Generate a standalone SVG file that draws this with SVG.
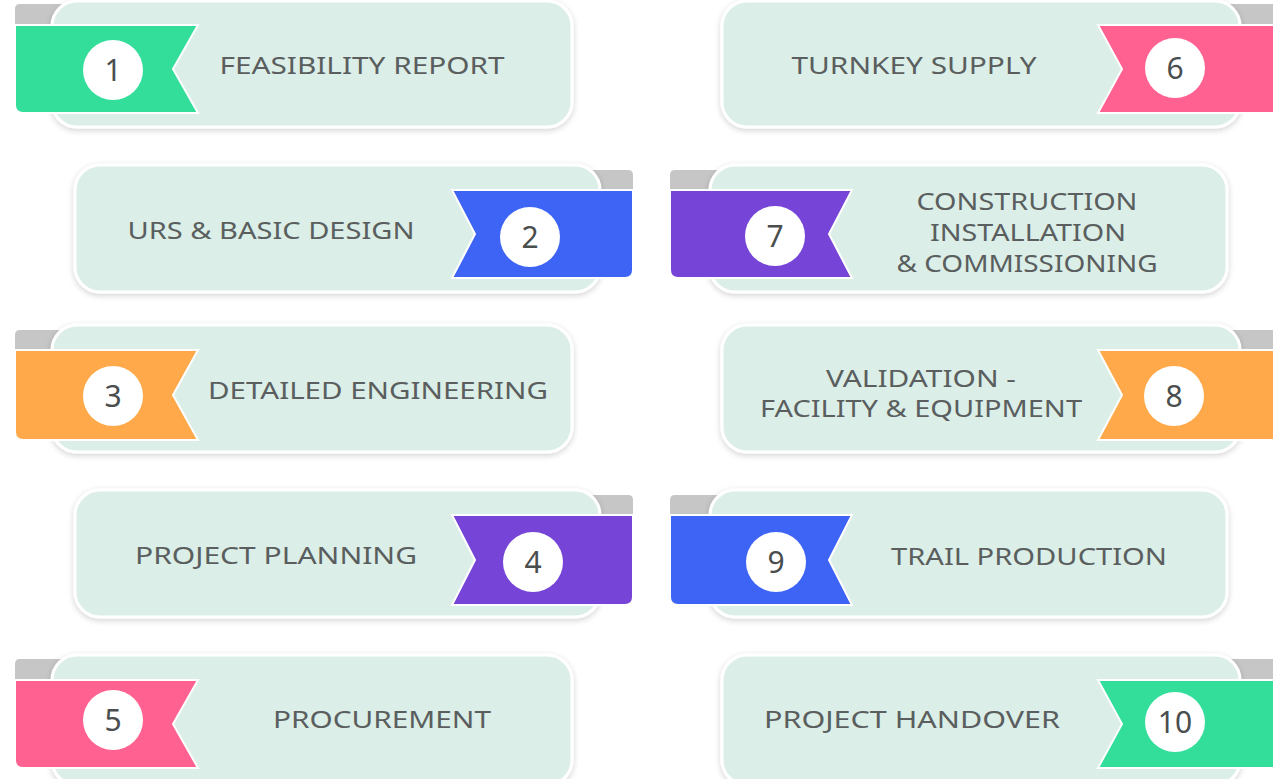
<svg xmlns="http://www.w3.org/2000/svg" width="1273" height="779" viewBox="0 0 1273 779">
<defs>
<filter id="sh" x="-5%" y="-10%" width="110%" height="125%">
<feGaussianBlur in="SourceAlpha" stdDeviation="3"/>
<feOffset dy="2" result="b"/>
<feComponentTransfer><feFuncA type="linear" slope="0.18"/></feComponentTransfer>
<feMerge><feMergeNode/><feMergeNode in="SourceGraphic"/></feMerge>
</filter>
</defs>
<style>
.card{fill:#dbeee7;stroke:#ffffff;stroke-width:3}
.tab{fill:#c6c6c6}
.flag{stroke:#ffffff;stroke-width:2}
.g{fill:#33de9b}.b{fill:#3e64f5}.o{fill:#ffa94a}.p{fill:#7645d8}.k{fill:#ff6291}
.dot{fill:#ffffff}
.lbl{font-family:"Noto Sans","Liberation Sans",sans-serif;font-size:23px;font-weight:400;fill:#5a5e5e;text-anchor:middle}
.num{font-family:"Noto Sans","Liberation Sans",sans-serif;font-size:30px;font-weight:400;fill:#4a4e4e;text-anchor:middle}
</style>
<rect width="1273" height="779" fill="#ffffff"/>

<g id="node1">
<path class="tab" d="M15,34 V9 Q15,4 20,4 H70 L60,34 Z"/>
<rect class="card" x="52" y="1" width="520" height="126" rx="25" filter="url(#sh)"/>
<path class="flag g" d="M15,25 H198 L173,69 L198,113 H23 Q15,113 15,105 Z"/>
<circle class="dot" cx="113" cy="70" r="30"/>
<text class="num" x="113" y="81">1</text>
<text class="lbl" x="362" y="74" textLength="285" lengthAdjust="spacingAndGlyphs">FEASIBILITY REPORT</text>
</g>

<g id="node2">
<path class="tab" d="M633,200 V175 Q633,170 628,170 H585 L595,200 Z"/>
<rect class="card" x="75" y="165" width="525" height="127" rx="25" filter="url(#sh)"/>
<path class="flag b" d="M452,190 H633 V270 Q633,278 625,278 H452 L475,234 Z"/>
<circle class="dot" cx="530" cy="237" r="30"/>
<text class="num" x="530" y="248">2</text>
<text class="lbl" x="271" y="239" textLength="287" lengthAdjust="spacingAndGlyphs">URS &amp; BASIC DESIGN</text>
</g>

<g id="node3">
<path class="tab" d="M15,360 V335 Q15,330 20,330 H70 L60,360 Z"/>
<rect class="card" x="52" y="325" width="520" height="127" rx="25" filter="url(#sh)"/>
<path class="flag o" d="M15,350 H198 L173,395 L198,440 H23 Q15,440 15,432 Z"/>
<circle class="dot" cx="113" cy="396" r="30"/>
<text class="num" x="113" y="407">3</text>
<text class="lbl" x="378" y="399" textLength="340" lengthAdjust="spacingAndGlyphs">DETAILED ENGINEERING</text>
</g>

<g id="node4">
<path class="tab" d="M633,525 V500 Q633,495 628,495 H585 L595,525 Z"/>
<rect class="card" x="75" y="490" width="525" height="127" rx="25" filter="url(#sh)"/>
<path class="flag p" d="M452,515 H633 V597 Q633,605 625,605 H452 L475,560 Z"/>
<circle class="dot" cx="533" cy="562" r="30"/>
<text class="num" x="533" y="573">4</text>
<text class="lbl" x="276" y="564" textLength="282" lengthAdjust="spacingAndGlyphs">PROJECT PLANNING</text>
</g>

<g id="node5">
<path class="tab" d="M15,689 V664 Q15,659 20,659 H70 L60,689 Z"/>
<rect class="card" x="52" y="655" width="520" height="130" rx="25" filter="url(#sh)"/>
<path class="flag k" d="M15,680 H198 L173,724 L198,768 H23 Q15,768 15,760 Z"/>
<circle class="dot" cx="113" cy="720" r="30"/>
<text class="num" x="113" y="731">5</text>
<text class="lbl" x="382" y="728" textLength="218" lengthAdjust="spacingAndGlyphs">PROCUREMENT</text>
</g>

<g id="node6">
<path class="tab" d="M1275,34 V4 H1228 L1238,34 Z"/>
<rect class="card" x="722" y="1" width="518" height="126" rx="25" filter="url(#sh)"/>
<path class="flag k" d="M1098,25 H1275 V113 H1098 L1122,69 Z"/>
<circle class="dot" cx="1175" cy="68" r="30"/>
<text class="num" x="1175" y="79">6</text>
<text class="lbl" x="914" y="74" textLength="245" lengthAdjust="spacingAndGlyphs">TURNKEY SUPPLY</text>
</g>

<g id="node7">
<path class="tab" d="M670,200 V175 Q670,170 675,170 H718 L708,200 Z"/>
<rect class="card" x="710" y="165" width="517" height="127" rx="25" filter="url(#sh)"/>
<path class="flag p" d="M852,190 H670 V270 Q670,278 678,278 H852 L829,234 Z"/>
<circle class="dot" cx="775" cy="236" r="30"/>
<text class="num" x="775" y="247">7</text>
<text class="lbl" x="1027" y="210" textLength="221" lengthAdjust="spacingAndGlyphs">CONSTRUCTION</text>
<text class="lbl" x="1028" y="241" textLength="196" lengthAdjust="spacingAndGlyphs">INSTALLATION</text>
<text class="lbl" x="1027" y="272" textLength="261" lengthAdjust="spacingAndGlyphs">&amp; COMMISSIONING</text>
</g>

<g id="node8">
<path class="tab" d="M1275,360 V330 H1228 L1238,360 Z"/>
<rect class="card" x="722" y="325" width="518" height="127" rx="25" filter="url(#sh)"/>
<path class="flag o" d="M1098,350 H1275 V440 H1098 L1122,395 Z"/>
<circle class="dot" cx="1174" cy="396" r="30"/>
<text class="num" x="1174" y="407">8</text>
<text class="lbl" x="921" y="387" textLength="190" lengthAdjust="spacingAndGlyphs">VALIDATION -</text>
<text class="lbl" x="921" y="417" textLength="322" lengthAdjust="spacingAndGlyphs">FACILITY &amp; EQUIPMENT</text>
</g>

<g id="node9">
<path class="tab" d="M670,525 V500 Q670,495 675,495 H718 L708,525 Z"/>
<rect class="card" x="710" y="490" width="517" height="127" rx="25" filter="url(#sh)"/>
<path class="flag b" d="M852,515 H670 V597 Q670,605 678,605 H852 L829,560 Z"/>
<circle class="dot" cx="776" cy="562" r="30"/>
<text class="num" x="776" y="573">9</text>
<text class="lbl" x="1029" y="565" textLength="276" lengthAdjust="spacingAndGlyphs">TRAIL PRODUCTION</text>
</g>

<g id="node10">
<path class="tab" d="M1275,689 V659 H1228 L1238,689 Z"/>
<rect class="card" x="722" y="655" width="518" height="130" rx="25" filter="url(#sh)"/>
<path class="flag g" d="M1098,680 H1275 V768 H1098 L1122,724 Z"/>
<circle class="dot" cx="1175" cy="722" r="30"/>
<text class="num" x="1175" y="733">10</text>
<text class="lbl" x="912" y="728" textLength="296" lengthAdjust="spacingAndGlyphs">PROJECT HANDOVER</text>
</g>

<g id="connectors"></g>
</svg>
